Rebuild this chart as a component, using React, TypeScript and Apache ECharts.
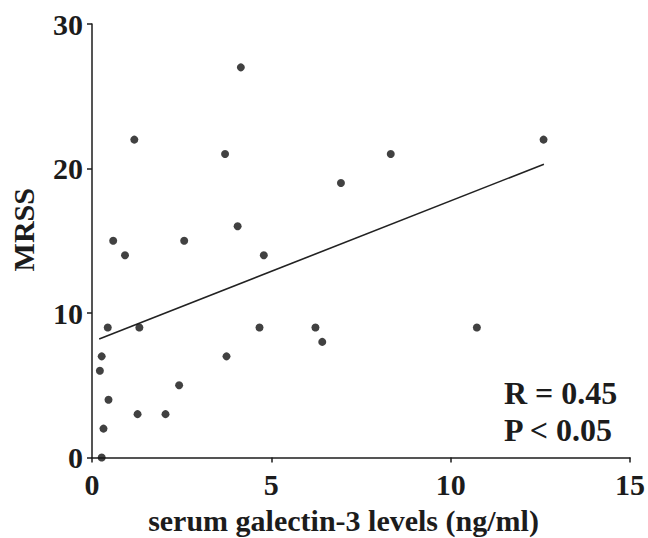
import React, { useEffect, useRef } from "react";
import * as echarts from "echarts";

const galectinX = [4.15, 1.18, 3.71, 12.59, 8.33, 6.94, 4.06, 0.59, 2.57, 0.92, 4.79, 0.44, 1.32, 4.67, 6.23, 10.73, 6.42, 0.27, 3.75, 0.22, 2.43, 0.46, 1.27, 2.05, 0.32, 0.27];
const mrssY = [27, 22, 21, 22, 21, 19, 16, 15, 15, 14, 14, 9, 9, 9, 9, 9, 8, 7, 7, 6, 5, 4, 3, 3, 2, 0];
const fitX = [0.2, 12.6];
const fitY = [8.2, 20.3];
const xTicks = [0, 5, 10, 15];
const yTicks = [0, 10, 20, 30];
const statLines = ["R = 0.45", "P < 0.05"];

const FONT = "'Liberation Serif', 'Times New Roman', serif";
const INK = "#1c1c1c";

export default function App() {
  const ref = useRef<HTMLDivElement>(null);
  useEffect(() => {
    if (!ref.current) return;
    const chart = echarts.init(ref.current, undefined, { renderer: "svg" });
    const axisCommon = {
      type: "value" as const,
      splitLine: { show: false },
      axisLine: { show: true, lineStyle: { color: INK, width: 1.5 } },
      axisTick: { show: true, length: 5, lineStyle: { color: INK, width: 1.5 } },
      axisLabel: { color: INK, fontFamily: FONT, fontWeight: "bold" as const, fontSize: 30 },
    };
    chart.setOption({
      animation: false,
      grid: { left: 92, right: 18, top: 24, bottom: 80.5, containLabel: false, outerBoundsMode: "none" },
      xAxis: {
        ...axisCommon,
        min: xTicks[0],
        max: xTicks[xTicks.length - 1],
        interval: xTicks[1] - xTicks[0],
        axisLabel: { ...axisCommon.axisLabel, margin: 12 },
        name: "serum galectin-3 levels (ng/ml)",
        nameLocation: "middle",
        nameGap: 48,
        nameTextStyle: { color: INK, fontFamily: FONT, fontWeight: "bold", fontSize: 30, padding: [0, 35, 0, 0] },
      },
      yAxis: {
        ...axisCommon,
        min: yTicks[0],
        max: yTicks[yTicks.length - 1],
        interval: yTicks[1] - yTicks[0],
        axisLabel: { ...axisCommon.axisLabel, margin: 9 },
        name: "MRSS",
        nameLocation: "middle",
        nameGap: 54,
        nameRotate: 90,
        nameTextStyle: { color: INK, fontFamily: FONT, fontWeight: "bold", fontSize: 30, padding: [0, 0, 0, 22] },
      },
      series: [
        {
          type: "scatter",
          data: galectinX.map((x, i) => [x, mrssY[i]]),
          symbol: "circle",
          symbolSize: 8,
          itemStyle: { color: "#111" },
          z: 3,
        },
        {
          type: "line",
          data: fitX.map((x, i) => [x, fitY[i]]),
          symbol: "none",
          lineStyle: { color: "#222", width: 1.6 },
          z: 2,
        },
      ],
      graphic: statLines.map((t, i) => ({
        type: "text",
        left: 504,
        top: 377 + i * 37,
        style: { text: t, fill: INK, font: `bold 32px ${FONT}` },
      })),
    });
    return () => chart.dispose();
  }, []);
  return <div ref={ref} style={{ width: 648, height: 538, position: "absolute", left: 0, top: 0 }} />;
}
